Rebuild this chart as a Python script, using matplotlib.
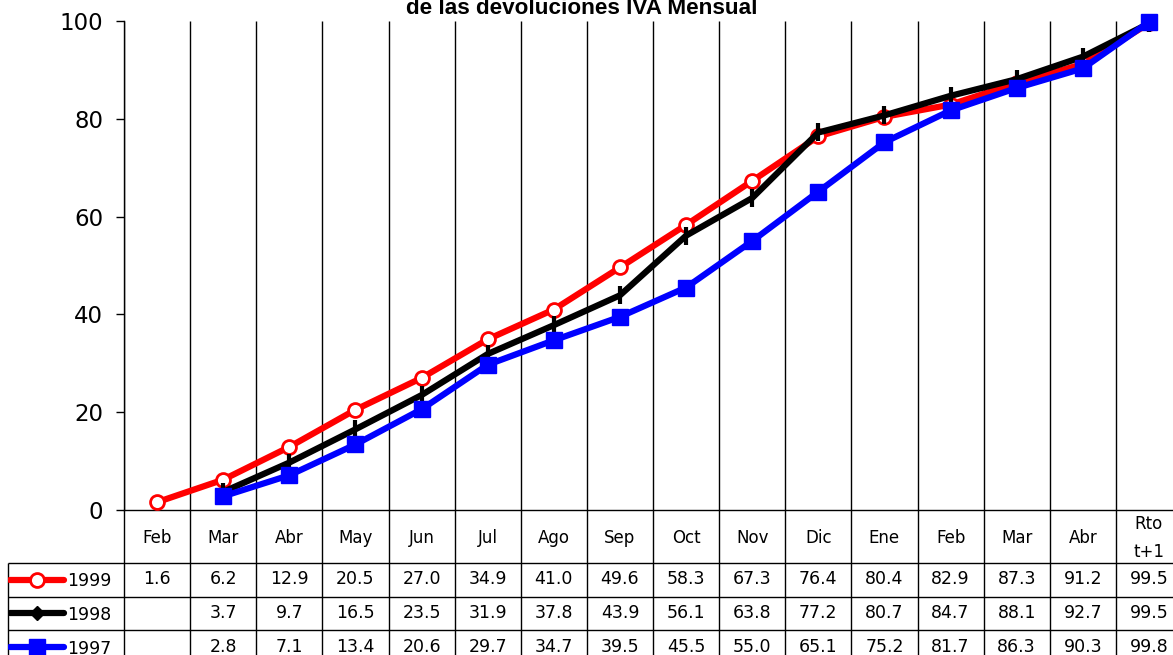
import numpy as np
import matplotlib.pyplot as plt

# categorias (meses) y valores acumulados (%)
meses = ['Feb', 'Mar', 'Abr', 'May', 'Jun', 'Jul', 'Ago', 'Sep', 'Oct',
         'Nov', 'Dic', 'Ene', 'Feb', 'Mar', 'Abr', 'Rto\nt+1']
v1999 = [1.6, 6.2, 12.9, 20.5, 27.0, 34.9, 41.0, 49.6, 58.3, 67.3, 76.4,
         80.4, 82.9, 87.3, 91.2, 99.5]
v1998 = [None, 3.7, 9.7, 16.5, 23.5, 31.9, 37.8, 43.9, 56.1, 63.8, 77.2,
         80.7, 84.7, 88.1, 92.7, 99.5]
v1997 = [None, 2.8, 7.1, 13.4, 20.6, 29.7, 34.7, 39.5, 45.5, 55.0, 65.1,
         75.2, 81.7, 86.3, 90.3, 99.8]
titulo = 'de las devoluciones IVA Mensual'

series = [
    ('1999', v1999, dict(color='#FF0000', marker='o', ms=10, mfc='white', mec='#FF0000', mew=2)),
    ('1998', v1998, dict(color='black', marker='|', ms=13, mew=3)),
    ('1997', v1997, dict(color='#0000FF', marker='s', ms=11, mfc='#0000FF', mec='#0000FF')),
]

W, H = 1173, 655
fig = plt.figure(figsize=(W / 100, H / 100), dpi=100)

# area del grafico (se sale un poco por la derecha, como en el original)
x0, x1, ytop, ybot = 124, 1182, 21, 510
cw = (x1 - x0) / 16
ax = fig.add_axes([x0 / W, (H - ybot) / H, (x1 - x0) / W, (ybot - ytop) / H])
n = len(meses)
x = np.arange(n)
ax.set_xlim(-0.5, n - 0.5)
ax.set_ylim(0, 100)
ax.vlines(np.arange(n + 1) - 0.5, 0, 100, color='black', lw=1, zorder=1)

for z, (nombre, vals, st) in enumerate(series):
    y = np.array([np.nan if v is None else v for v in vals], dtype=float)
    ax.plot(x, y, lw=4.5, zorder=3 + z, clip_on=False, **st)

for s in ['top', 'right']:
    ax.spines[s].set_visible(False)
ax.spines['left'].set_linewidth(1)
ax.spines['bottom'].set_linewidth(1)
ax.set_xticks([])
ax.set_yticks([0, 20, 40, 60, 80, 100])
ax.tick_params(axis='y', labelsize=16.5, length=6, width=1, pad=9)

# el titulo queda cortado por arriba, como en la imagen original
fig.text(582 / W, 1 - 14 / H, titulo, ha='center', va='baseline',
         fontsize=16.2, fontweight='bold', family='Liberation Sans')

# tabla de datos debajo del grafico
xl = 8
tab = fig.add_axes([xl / W, 0, (x1 - xl) / W, (H - ybot) / H])
left = -0.5 - (x0 - xl) / cw
tab.set_xlim(left, n - 0.5)
tab.set_ylim(H, ybot)
tab.axis('off')

def px(p):
    return -0.5 + (p - x0) / cw

row_lines = [563, 597, 630, 664]
tab.vlines(np.arange(n + 1) - 0.5, ybot, H, color='black', lw=1, clip_on=False)
tab.vlines([left], row_lines[0], H, color='black', lw=1, clip_on=False)
tab.hlines(row_lines[:3], left, n - 0.5, color='black', lw=1)

for i, m in enumerate(meses):
    tab.text(i, 538, m, ha='center', va='center', fontsize=12, linespacing=1.7)

for r, (nombre, vals, st) in enumerate(series):
    yc = (row_lines[r] + row_lines[r + 1]) / 2 - 0.5
    for i, v in enumerate(vals):
        if v is not None:
            tab.text(i, yc, f'{v:.1f}', ha='center', va='center', fontsize=12.5)
    key = dict(st)
    if nombre == '1998':
        key.update(marker='D', ms=7, mew=1)
    tab.plot([px(10), px(64)], [yc, yc], lw=4.5, solid_capstyle='round', color=st['color'])
    tab.plot([px(37)], [yc], lw=0, **{k: v for k, v in key.items() if k != 'color'},
             color=st['color'])
    tab.text(px(67), yc + 2, nombre, ha='left', va='center', fontsize=12.5)

fig.savefig('out.png', dpi=100)
